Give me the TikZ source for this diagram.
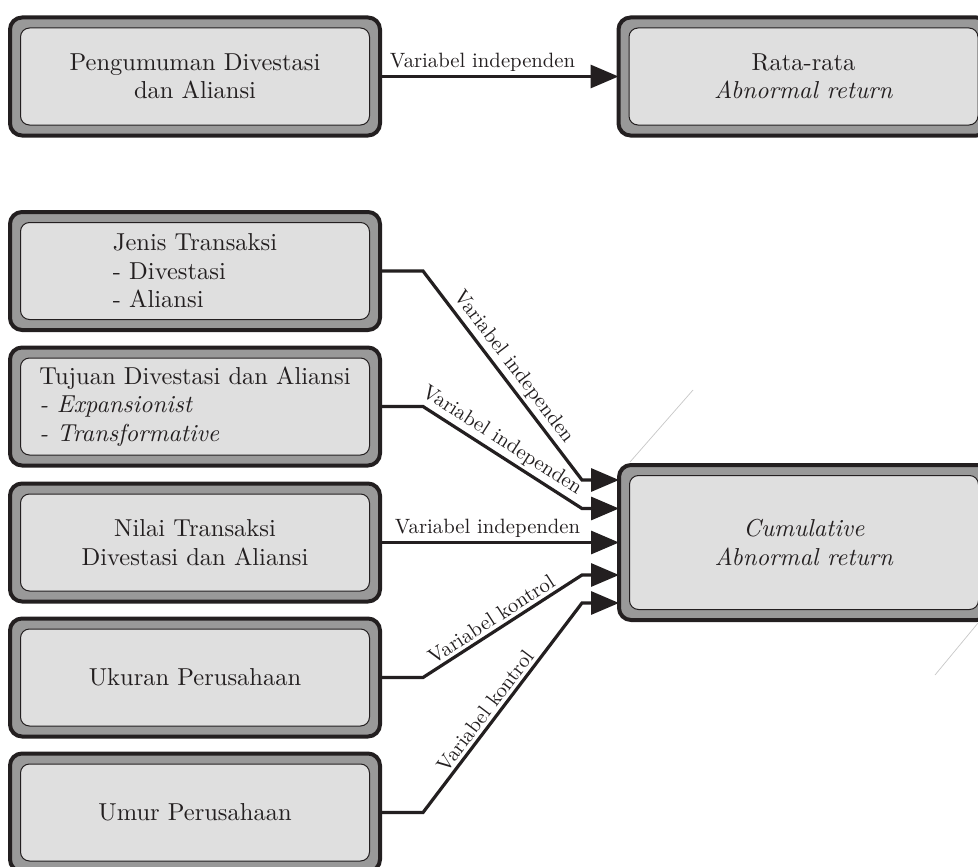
\documentclass[tikz,border=0pt]{standalone}
\usepackage{fontspec}
\setmainfont{lmroman10-regular.otf}[ItalicFont=lmroman10-italic.otf, BoldFont=lmroman10-bold.otf]
\usetikzlibrary{calc,arrows.meta}
\definecolor{ink}{HTML}{231F20}
\definecolor{band}{HTML}{999999}
\definecolor{face}{HTML}{DFDFDF}
\definecolor{ghost}{HTML}{C8C8C8}
\newcommand\boxfont{\fontsize{24.5}{28.5}\selectfont}
\newcommand\labfont{\fontsize{20.7}{24}\selectfont}
\tikzset{
  boxouter/.style={draw=ink, fill=band, line width=4pt, rounded corners=12pt,
    minimum width=370pt, minimum height=118pt, inner sep=0pt, outer sep=0pt,
    text=ink, font=\boxfont, align=center,
    path picture={\draw[draw=ink, fill=face, line width=1pt, rounded corners=9pt]
      ([shift={(10.5pt,-10.5pt)}]path picture bounding box.north west) rectangle
      ([shift={(-10.5pt,10.5pt)}]path picture bounding box.south east);}},
  conn/.style={draw=ink, line width=3.2pt, -{Triangle[length=28pt,width=23pt]}},
  lab/.style={text=ink, font=\labfont, inner sep=3pt},
  ghostline/.style={draw=ghost, line width=0.7pt}
}
\begin{document}
\begin{tikzpicture}[x=1pt,y=-1pt]
\useasboundingbox (0,0) rectangle (978,867);
\fill[white] (0,0) rectangle (978,867);
\clip (0,0) rectangle (978,867);

\node[boxouter] (A) at (195,76.5) {Pengumuman Divestasi\\dan Aliansi};
\node[boxouter] (R) at (803.5,76.5) {Rata-rata\\\textit{Abnormal return}};
\node[boxouter, align=left] (J) at (195,271) {Jenis Transaksi\\- Divestasi\\- Aliansi};
\node[boxouter, align=left] (T) at (195,406.5) {Tujuan Divestasi dan Aliansi\\\textit{- Expansionist}\\\textit{- Transformative}};
\node[boxouter] (N) at (195,542.5) {Nilai Transaksi\\Divestasi dan Aliansi};
\node[boxouter] (U) at (195,677.5) {Ukuran Perusahaan};
\node[boxouter] (M) at (195,812.5) {Umur Perusahaan};
\node[boxouter, minimum height=155pt] (C) at (804,542.5) {\textit{Cumulative}\\\textit{Abnormal return}};

\draw[conn] (A.east) -- node[lab, above, pos=0.43] {Variabel independen} (R.west);

\draw[conn] (J.east) -- ++(43,0)
  -- node[lab, above, sloped, pos=0.5] {Variabel independen} ($(C.west)+(-37,-62.5)$)
  -- ($(C.west)+(0,-62.5)$);
\draw[conn] (T.east) -- ++(43,0)
  -- node[lab, above, sloped, pos=0.45] {Variabel independen} ($(C.west)+(-37,-34)$)
  -- ($(C.west)+(0,-34)$);
\draw[conn] (N.east) -- node[lab, above, pos=0.45] {Variabel independen} (C.west);
\draw[conn] (U.east) -- ++(43,0)
  -- node[lab, above, sloped, pos=0.47] {Variabel kontrol} ($(C.west)+(-37,32.5)$)
  -- ($(C.west)+(0,32.5)$);
\draw[conn] (M.east) -- ++(43,0)
  -- node[lab, above, sloped, pos=0.45] {Variabel kontrol} ($(C.west)+(-37,60.5)$)
  -- ($(C.west)+(0,60.5)$);

\draw[ghostline] (630,462) -- (693,390);
\draw[ghostline] (978,623) -- (935,675);
\end{tikzpicture}
\end{document}
